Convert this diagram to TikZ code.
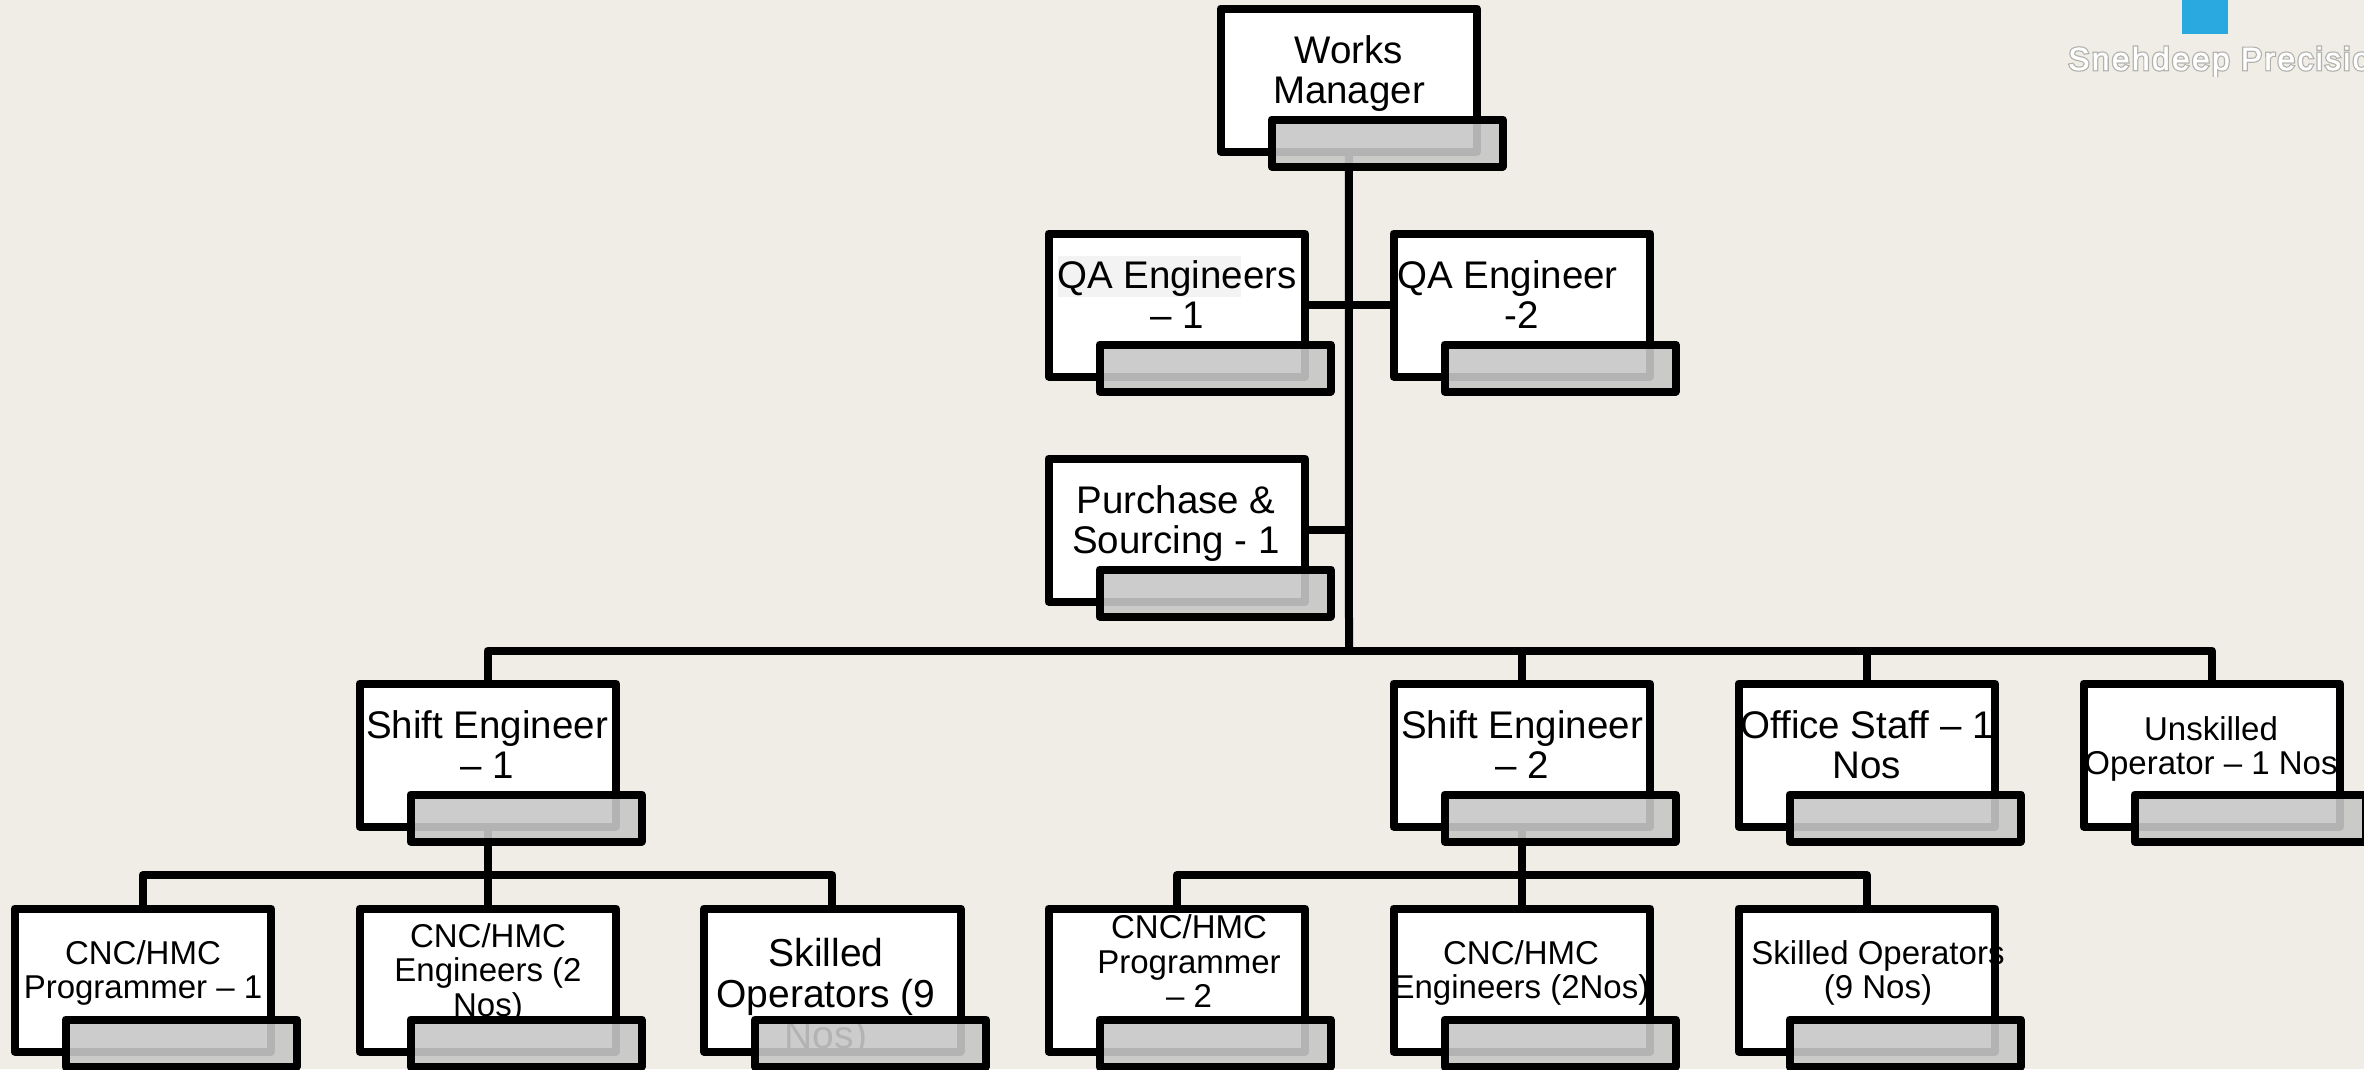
\documentclass[tikz,border=0pt]{standalone}
\usepackage{fontspec}
\setmainfont{Liberation Sans}
\newfontfamily\logofont[LetterSpace=7,FakeBold=1.5]{Liberation Sans}
\newfontfamily\logoglow[LetterSpace=7,FakeBold=9]{Liberation Sans}
\definecolor{pagebg}{HTML}{EFEDE5}
\definecolor{tabgrey}{HTML}{C7C7C7}
\definecolor{logoblue}{HTML}{29A9E0}
\definecolor{hlgrey}{HTML}{F3F3F3}
\pgfdeclarelayer{back}
\pgfdeclarelayer{txt}
\pgfdeclarelayer{front}
\pgfsetlayers{back,main,txt,front}
\tikzset{
  unitbox/.style={draw=black,line width=8pt,line join=round,fill=white,inner sep=0pt,outer sep=0pt,
    minimum width=256.5pt,minimum height=143pt,anchor=north west},
  unittab/.style={draw=black,line width=8pt,line join=round,fill=tabgrey,fill opacity=0.9,draw opacity=1,inner sep=0pt,outer sep=0pt,
    minimum width=231pt,minimum height=47pt,anchor=north west},
  unittext/.style={inner sep=0pt,outer sep=0pt,align=center,text=black,anchor=center},
  big/.style={font=\fontsize{38.5}{40}\selectfont},
  bigger/.style={font=\fontsize{39}{41}\selectfont},
  small/.style={font=\fontsize{33}{34.5}\selectfont},
  link/.style={draw=black,line width=8pt,line join=round},
}
% name, left, top, text x, text y, text style, text
\newcommand{\orgunit}[7]{%
  \node[unitbox] (#1) at (#2+3.5,#3+3.5) {};
  \begin{pgfonlayer}{txt}
    \node[unittext,#6] (#1-t) at (#4,#5) {#7};
  \end{pgfonlayer}
  \begin{pgfonlayer}{front}
    \node[unittab] (#1-g) at (#2+54.5,#3+114.5) {};
  \end{pgfonlayer}
}
\begin{document}
\begin{tikzpicture}[x=1pt,y=-1pt]
\useasboundingbox (0,0) rectangle (2364,1069);
\begin{pgfonlayer}{back}
  \fill[pagebg] (0,0) rectangle (2364,1069);
\end{pgfonlayer}

\orgunit{wm}{1217}{5}{1349}{74}{big}{Works\\Manager}
\orgunit{qa1}{1045}{230}{1177}{294.5}{big}{QA Engineers\\– 1}
\orgunit{qa2}{1390}{230}{1522}{294.5}{big}{\mbox{QA Engineer\hspace{29pt}}\\-2}
\orgunit{pu}{1045}{455}{1176}{524}{big}{Purchase \&\\Sourcing - 1}
\orgunit{sh1}{356}{680}{487}{744.5}{big}{Shift Engineer\\– 1}
\orgunit{sh2}{1390}{680}{1522}{744.5}{big}{Shift Engineer\\– 2}
\orgunit{off}{1735}{680}{1867}{744.5}{big}{Office Staff – 1\\Nos}
\orgunit{un}{2080}{680}{2211}{749}{small}{Unskilled\\Operator – 1 Nos}
\orgunit{a1}{11}{905}{143}{973}{small}{CNC/HMC\\Programmer – 1}
\orgunit{a2}{356}{905}{488}{973}{small}{CNC/HMC\\Engineers (2\\Nos)}
\orgunit{a3}{700.5}{905}{826}{997}{bigger}{Skilled\\Operators (9\\Nos)}
\orgunit{b1}{1045}{905}{1189}{961.5}{small}{CNC/HMC\\Programmer\\– 2}
\orgunit{b2}{1390}{905}{1521}{973}{small}{CNC/HMC\\Engineers (2Nos)}
\orgunit{b3}{1735}{905}{1878}{973}{small}{Skilled Operators\\(9 Nos)}

\fill[hlgrey] (1058,256) rectangle (1241,297);

\coordinate (bus) at (1349,650.5);
\coordinate (busa) at (488,875);
\coordinate (busb) at (1523,875);
\begin{pgfonlayer}{back}
  \draw[link] (wm.south) -- (bus);
  \draw[link] (qa1.east) -- (qa2.west);
  \draw[link] (pu.east) -- (pu.east -| bus);
  \draw[link] (sh1.north) |- (bus) -| (un.north);
  \draw[link] (sh2.north) -- (sh2.north |- bus);
  \draw[link] (off.north) -- (off.north |- bus);
  \draw[link] (sh1.south) -- (a2.north);
  \draw[link] (a1.north) |- (busa) -| (a3.north);
  \draw[link] (sh2.south) -- (b2.north);
  \draw[link] (b1.north) |- (busb) -| (b3.north);
\end{pgfonlayer}

\fill[logoblue] (2182,0) rectangle (2228,34);
\begin{scope}
  \clip (2000,0) rectangle (2364,76.5);
  \node[inner sep=0pt,anchor=base west,text=black!60,opacity=0.45,font=\logoglow\fontsize{32}{34}\selectfont] (logoglow) at (2068,70) {Snehdeep Precision};
  \node[inner sep=0pt,anchor=base west,text=white,font=\logofont\fontsize{32}{34}\selectfont] (logo) at (2068,70) {Snehdeep Precision};
\end{scope}
\end{tikzpicture}
\end{document}
